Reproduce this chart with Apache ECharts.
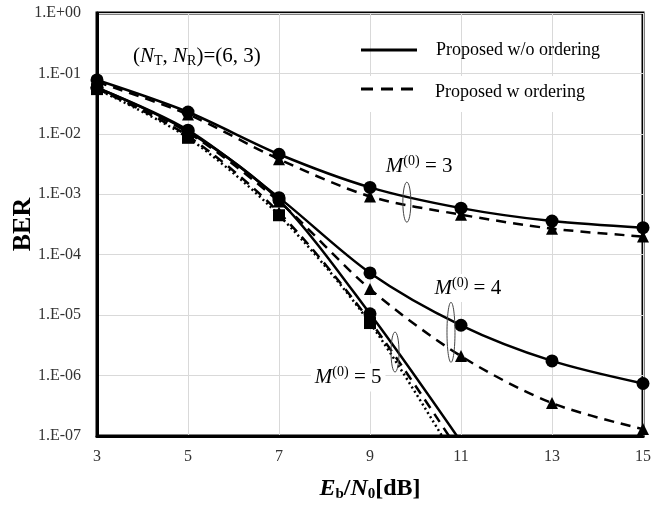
<!DOCTYPE html>
<html>
<head>
<meta charset="utf-8">
<script src="https://cdn.jsdelivr.net/npm/echarts@6/dist/echarts.min.js"></script>
<style>
  html, body { margin: 0; padding: 0; background: #fff; }
  #chart { width: 664px; height: 510px; }
</style>
</head>
<body>
<div id="chart"></div>
<script>
// --- Data ---
const ebn0 = [3, 5, 7, 9, 11, 13, 15];

const m3WithoutOrd = [7.8e-2, 2.3e-2, 4.6e-3, 1.3e-3, 5.9e-4, 3.6e-4, 2.8e-4];
const m3WithOrd    = [7.2e-2, 2.1e-2, 3.8e-3, 9.2e-4, 4.6e-4, 2.7e-4, 2.0e-4];
const m4WithoutOrd = [5.8e-2, 1.15e-2, 8.8e-4, 5.0e-5, 6.8e-6, 1.75e-6, 7.4e-7];
const m4WithOrd    = [5.6e-2, 1.05e-2, 7.6e-4, 2.7e-5, 2.1e-6, 3.5e-7, 1.3e-7];
const m5WithoutOrd = [5.8e-2, 1.1e-2, 8.0e-4, 1.05e-5, 8.0e-8];
const m5WithOrd    = [5.6e-2, 9.2e-3, 5.0e-4, 8.0e-6, 5.0e-8];
const m5Dotted     = [5.5e-2, 8.6e-3, 4.5e-4, 7.4e-6, 3.0e-8];

const yTickExps = [0, -1, -2, -3, -4, -5, -6, -7];

const SERIF = '"Liberation Serif", "Times New Roman", serif';

function pairs(vals) {
    return vals.map((v, i) => [ebn0[i], v]);
}

function line(name, vals, kind) {
    const styles = {
        solid:  { type: 'solid', symbol: 'circle', size: 13 },
        dashed: { type: [10, 7], symbol: 'triangle', size: 12 },
        dotted: { type: [2, 3], symbol: 'rect', size: 12 },
    }[kind];
    return {
        name, type: 'line', data: pairs(vals),
        smooth: 0.3, clip: true,
        symbol: styles.symbol, symbolSize: styles.size,
        lineStyle: { color: '#000', width: 2.5, type: styles.type },
        itemStyle: { color: '#000' },
        animation: false,
    };
}

const chart = echarts.init(document.getElementById('chart'), null, { renderer: 'canvas' });

chart.setOption({
    animation: false,
    backgroundColor: '#fff',
    grid: {
        left: 97, right: 21, top: 13, bottom: 74,
        containLabel: false, outerBoundsMode: 'none',
        show: true, borderColor: '#000', borderWidth: 3,
    },
    xAxis: {
        type: 'value', min: 3, max: 15, interval: 2,
        axisLine: { show: true, lineStyle: { color: '#000', width: 3 } },
        axisTick: { show: false },
        axisLabel: { color: '#333', fontFamily: SERIF, fontSize: 16, margin: 13 },
        splitLine: { show: true, lineStyle: { color: '#d9d9d9', width: 1 } },
        name: '{i|E}{sb|b}{b|/}{i|N}{sb|0}{b|[dB]}',
        nameLocation: 'middle', nameGap: 40, nameMoveOverlap: false,
        nameTextStyle: {
            rich: {
                i: { fontFamily: SERIF, fontSize: 24, fontWeight: 'bold', fontStyle: 'italic', color: '#000', lineHeight: 26 },
                b: { fontFamily: SERIF, fontSize: 24, fontWeight: 'bold', color: '#000', lineHeight: 26 },
                sb: { fontFamily: SERIF, fontSize: 15, fontWeight: 'bold', color: '#000', verticalAlign: 'bottom', lineHeight: 20 },
            },
        },
    },
    yAxis: {
        type: 'log', logBase: 10, min: 1e-7, max: 1, splitNumber: 7,
        axisLine: { show: true, lineStyle: { color: '#000', width: 3 } },
        axisTick: { show: false },
        minorTick: { show: false },
        axisLabel: {
            color: '#333', fontFamily: SERIF, fontSize: 16, margin: 16,
            formatter: v => {
                const e = Math.round(Math.log10(v));
                if (!yTickExps.includes(e)) return '';
                return '1.E' + (e < 0 ? '-' : '+') + String(Math.abs(e)).padStart(2, '0');
            },
        },
        splitLine: { show: true, lineStyle: { color: '#d9d9d9', width: 1 } },
        name: 'BER', nameLocation: 'middle', nameGap: 61, nameRotate: 90, nameMoveOverlap: false,
        nameTextStyle: { fontFamily: SERIF, fontSize: 26, fontWeight: 'bold', color: '#000' },
    },
    series: [
        line('M3 w/o', m3WithoutOrd, 'solid'),
        line('M3 w', m3WithOrd, 'dashed'),
        line('M4 w/o', m4WithoutOrd, 'solid'),
        line('M4 w', m4WithOrd, 'dashed'),
        line('M5 w/o', m5WithoutOrd, 'solid'),
        line('M5 w', m5WithOrd, 'dashed'),
        line('M5 dotted', m5Dotted, 'dotted'),
    ],
});

// --- Annotations, placed in data coordinates ---
function px(x, y) {
    return chart.convertToPixel({ gridIndex: 0 }, [x, y]);
}

const mRich = {
    m: { fontFamily: SERIF, fontSize: 21, fontStyle: 'italic', color: '#000', lineHeight: 24 },
    sup: { fontFamily: SERIF, fontSize: 14, color: '#000', verticalAlign: 'top', lineHeight: 24 },
    t: { fontFamily: SERIF, fontSize: 21, color: '#000', lineHeight: 24 },
};

function mLabel(val, x, y) {
    const [cx, cy] = px(x, y);
    return {
        type: 'text', x: cx, y: cy, z: 20,
        style: {
            text: `{m|M}{sup|(0)}{t| = ${val}}`, rich: mRich,
            align: 'center', verticalAlign: 'middle',
            backgroundColor: '#fff', padding: [2, 4],
        },
    };
}

function loop(x, y, rx, ry) {
    const [cx, cy] = px(x, y);
    return {
        type: 'ellipse', z: 20,
        shape: { cx, cy, rx, ry },
        style: { fill: 'none', stroke: '#444', lineWidth: 1 },
    };
}

const graphics = [
    // legend
    { type: 'rect', z: 15, shape: { x: 345, y: 76, width: 283, height: 36 }, style: { fill: '#fff' } },
    { type: 'line', z: 20, shape: { x1: 361, y1: 50, x2: 417, y2: 50 }, style: { stroke: '#000', lineWidth: 3 } },
    { type: 'line', z: 20, shape: { x1: 361, y1: 89, x2: 417, y2: 89 }, style: { stroke: '#000', lineWidth: 3, lineDash: [12, 8] } },
    { type: 'text', z: 20, x: 436, y: 50, style: { text: 'Proposed w/o ordering', fontFamily: SERIF, fontSize: 18, fill: '#000', verticalAlign: 'middle' } },
    { type: 'text', z: 20, x: 435, y: 92, style: { text: 'Proposed w ordering', fontFamily: SERIF, fontSize: 18, fill: '#000', verticalAlign: 'middle' } },
    // (N_T, N_R)=(6, 3)
    {
        type: 'text', z: 20, x: 133, y: 56,
        style: {
            text: '{t|(}{m|N}{s|T}{t|, }{m|N}{s|R}{t|)=(6, 3)}',
            verticalAlign: 'middle',
            rich: {
                t: { fontFamily: SERIF, fontSize: 21, color: '#000', lineHeight: 24 },
                m: { fontFamily: SERIF, fontSize: 21, fontStyle: 'italic', color: '#000', lineHeight: 24 },
                s: { fontFamily: SERIF, fontSize: 14, color: '#000', verticalAlign: 'bottom', lineHeight: 18 },
            },
        },
    },
    mLabel(3, 10.08, 2.9e-3),
    loop(9.81, 7.4e-4, 4, 20),
    mLabel(4, 11.15, 2.8e-5),
    loop(10.78, 5.2e-6, 4, 30),
    mLabel(5, 8.52, 9.3e-7),
    loop(9.55, 2.45e-6, 4, 20),
];

chart.setOption({ graphic: graphics });
</script>
</body>
</html>
